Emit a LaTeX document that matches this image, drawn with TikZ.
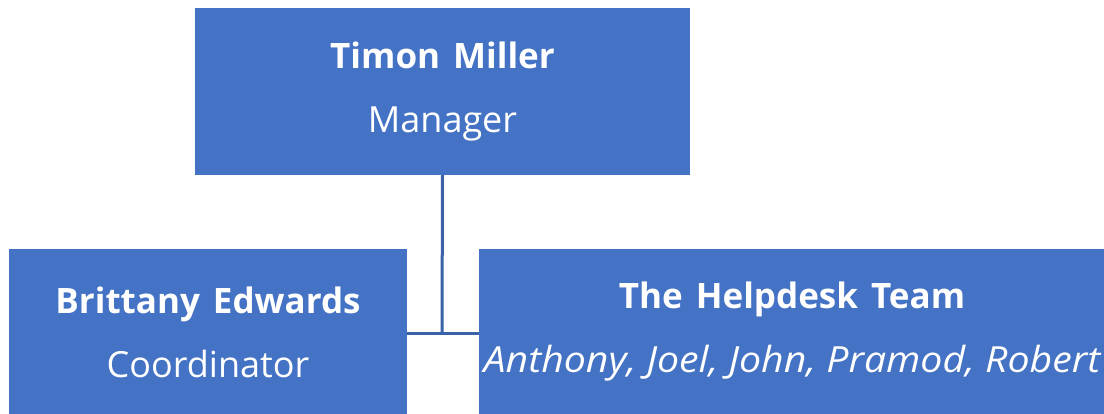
\documentclass[tikz,border=0pt]{standalone}
\usepackage{fontspec}
\usepackage{graphicx}
\setmainfont{Open Sans}
\definecolor{boxblue}{HTML}{4472C4}
\definecolor{linkblue}{HTML}{3A62A8}
\newcommand{\headtxt}[1]{{\fontsize{35}{64}\selectfont\bfseries\spaceskip=13pt plus 2pt #1}}
\begin{document}
\begin{tikzpicture}[x=1pt,y=1pt,
  orgbox/.style={fill=boxblue, draw=none, text=white, align=center, inner sep=0pt,
    font=\fontsize{36}{64}\selectfont},
  link/.style={draw=linkblue, line width=3pt}]
\useasboundingbox (0,0) rectangle (1104,-413);
\node[orgbox, minimum width=495pt, minimum height=167pt] (top) at (442.5,-91.5)
  {\headtxt{Timon Miller}\\Manager};
\node[orgbox, minimum width=398pt, minimum height=167pt] (left) at (208,-332)
  {\headtxt{Brittany Edwards}\\Coordinator};
\node[orgbox, minimum width=626pt, minimum height=167pt] (right) at (792,-332)
  {\headtxt{The Helpdesk Team}\\\scalebox{1.09}[1]{\itshape Anthony, Joel, John, Pramod, Robert}};
\coordinate (j) at (442,-333);
\draw[link] (top.south) -- (j);
\draw[link] (left.east |- j) -- (right.west |- j);
\end{tikzpicture}
\end{document}
